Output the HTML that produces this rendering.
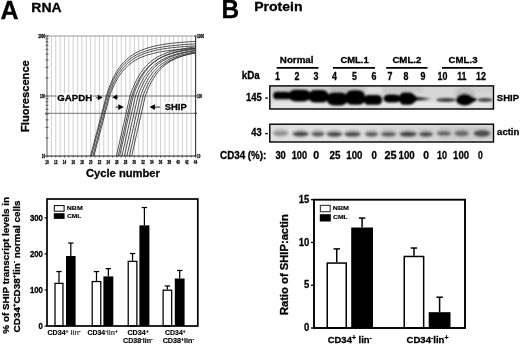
<!DOCTYPE html>
<html><head><meta charset="utf-8">
<style>
html,body{margin:0;padding:0;background:#fff;width:520px;height:345px;overflow:hidden}
svg{display:block;will-change:transform;filter:blur(0.3px)}
text{font-family:"Liberation Sans",sans-serif;font-weight:bold;fill:#000;stroke:#000;stroke-width:0.3px}
</style></head>
<body>
<svg width="520" height="345" viewBox="0 0 520 345">
<defs>
<filter id="b1" x="-10%" y="-50%" width="120%" height="200%"><feGaussianBlur stdDeviation="0.9"/></filter>
<filter id="b3" x="-10%" y="-50%" width="120%" height="200%"><feGaussianBlur stdDeviation="1.8"/></filter>
</defs>
<text x="0.55" y="18.75" font-size="25.0">A</text>
<text x="31.38" y="11.80" font-size="13.3" textLength="30.29" lengthAdjust="spacingAndGlyphs">RNA</text>
<text x="221.59" y="18.30" font-size="25.0" textLength="17.64" lengthAdjust="spacingAndGlyphs">B</text>
<text x="254.17" y="10.60" font-size="13.2" textLength="48.41" lengthAdjust="spacingAndGlyphs">Protein</text>
<g stroke="#c4c4c4" stroke-width="0.8"><line x1="51.37" y1="36.0" x2="51.37" y2="156.0"/>
<line x1="55.74" y1="36.0" x2="55.74" y2="156.0"/>
<line x1="60.10" y1="36.0" x2="60.10" y2="156.0"/>
<line x1="64.47" y1="36.0" x2="64.47" y2="156.0"/>
<line x1="68.84" y1="36.0" x2="68.84" y2="156.0"/>
<line x1="73.21" y1="36.0" x2="73.21" y2="156.0"/>
<line x1="77.57" y1="36.0" x2="77.57" y2="156.0"/>
<line x1="81.94" y1="36.0" x2="81.94" y2="156.0"/>
<line x1="86.31" y1="36.0" x2="86.31" y2="156.0"/>
<line x1="90.68" y1="36.0" x2="90.68" y2="156.0"/>
<line x1="95.04" y1="36.0" x2="95.04" y2="156.0"/>
<line x1="99.41" y1="36.0" x2="99.41" y2="156.0"/>
<line x1="103.78" y1="36.0" x2="103.78" y2="156.0"/>
<line x1="108.15" y1="36.0" x2="108.15" y2="156.0"/>
<line x1="112.51" y1="36.0" x2="112.51" y2="156.0"/>
<line x1="116.88" y1="36.0" x2="116.88" y2="156.0"/>
<line x1="121.25" y1="36.0" x2="121.25" y2="156.0"/>
<line x1="125.62" y1="36.0" x2="125.62" y2="156.0"/>
<line x1="129.99" y1="36.0" x2="129.99" y2="156.0"/>
<line x1="134.35" y1="36.0" x2="134.35" y2="156.0"/>
<line x1="138.72" y1="36.0" x2="138.72" y2="156.0"/>
<line x1="143.09" y1="36.0" x2="143.09" y2="156.0"/>
<line x1="147.46" y1="36.0" x2="147.46" y2="156.0"/>
<line x1="151.82" y1="36.0" x2="151.82" y2="156.0"/>
<line x1="156.19" y1="36.0" x2="156.19" y2="156.0"/>
<line x1="160.56" y1="36.0" x2="160.56" y2="156.0"/>
<line x1="164.93" y1="36.0" x2="164.93" y2="156.0"/>
<line x1="169.29" y1="36.0" x2="169.29" y2="156.0"/>
<line x1="173.66" y1="36.0" x2="173.66" y2="156.0"/>
<line x1="178.03" y1="36.0" x2="178.03" y2="156.0"/>
<line x1="182.40" y1="36.0" x2="182.40" y2="156.0"/>
<line x1="186.76" y1="36.0" x2="186.76" y2="156.0"/>
<line x1="191.13" y1="36.0" x2="191.13" y2="156.0"/></g>
<g stroke="#666" stroke-width="0.9"><line x1="47" y1="96" x2="195.5" y2="96"/><line x1="47" y1="113.3" x2="195.5" y2="113.3"/></g>
<g fill="none" stroke="#262626" stroke-width="0.8"><path d="M90.5,156.0 L104.8,101.7 L106.3,96.0 L107.3,92.8 L108.3,89.9 L109.3,87.1 L110.3,84.6 L111.3,82.2 L112.3,79.9 L113.3,77.8 L114.3,75.8 L115.3,74.0 L116.3,72.2 L117.3,70.6 L118.3,69.1 L119.3,67.6 L120.3,66.3 L121.3,65.0 L122.3,63.8 L123.3,62.7 L124.3,61.6 L125.3,60.6 L126.3,59.7 L129.3,57.1 L132.3,55.0 L135.3,53.1 L138.3,51.6 L141.3,50.2 L144.3,49.1 L147.3,48.1 L150.3,47.2 L153.3,46.4 L156.3,45.7 L159.3,45.1 L162.3,44.6 L165.3,44.1 L168.3,43.7 L171.3,43.3 L174.3,43.0 L177.3,42.7 L180.3,42.4 L183.3,42.2 L186.3,42.0 L189.3,41.8 L192.3,41.6 L195.3,41.5 L195.5,41.4"/>
<path d="M91.4,156.0 L105.7,101.7 L107.2,96.0 L108.2,93.0 L109.2,90.2 L110.2,87.5 L111.2,85.1 L112.2,82.8 L113.2,80.6 L114.2,78.6 L115.2,76.7 L116.2,75.0 L117.2,73.3 L118.2,71.7 L119.2,70.3 L120.2,68.9 L121.2,67.6 L122.2,66.4 L123.2,65.2 L124.2,64.2 L125.2,63.1 L126.2,62.2 L127.2,61.3 L130.2,58.9 L133.2,56.8 L136.2,55.1 L139.2,53.6 L142.2,52.3 L145.2,51.2 L148.2,50.2 L151.2,49.4 L154.2,48.6 L157.2,48.0 L160.2,47.4 L163.2,46.9 L166.2,46.4 L169.2,46.0 L172.2,45.7 L175.2,45.4 L178.2,45.1 L181.2,44.8 L184.2,44.6 L187.2,44.4 L190.2,44.2 L193.2,44.0 L195.5,43.9"/>
<path d="M92.9,156.0 L107.0,101.8 L108.5,96.0 L109.5,93.1 L110.5,90.4 L111.5,87.9 L112.5,85.5 L113.5,83.3 L114.5,81.2 L115.5,79.3 L116.5,77.4 L117.5,75.7 L118.5,74.1 L119.5,72.6 L120.5,71.2 L121.5,69.9 L122.5,68.7 L123.5,67.5 L124.5,66.4 L125.5,65.4 L126.5,64.4 L127.5,63.5 L128.5,62.6 L131.5,60.3 L134.5,58.3 L137.5,56.6 L140.5,55.2 L143.5,53.9 L146.5,52.8 L149.5,51.9 L152.5,51.1 L155.5,50.4 L158.5,49.8 L161.5,49.2 L164.5,48.7 L167.5,48.3 L170.5,47.9 L173.5,47.6 L176.5,47.3 L179.5,47.0 L182.5,46.7 L185.5,46.5 L188.5,46.3 L191.5,46.1 L194.5,46.0 L195.5,45.9"/>
<path d="M93.9,156.0 L108.2,101.7 L109.7,96.0 L110.7,93.2 L111.7,90.7 L112.7,88.2 L113.7,86.0 L114.7,83.9 L115.7,81.9 L116.7,80.1 L117.7,78.3 L118.7,76.7 L119.7,75.2 L120.7,73.8 L121.7,72.4 L122.7,71.2 L123.7,70.0 L124.7,68.9 L125.7,67.8 L126.7,66.8 L127.7,65.9 L128.7,65.0 L129.7,64.2 L132.7,62.0 L135.7,60.1 L138.7,58.5 L141.7,57.1 L144.7,56.0 L147.7,54.9 L150.7,54.1 L153.7,53.3 L156.7,52.6 L159.7,52.0 L162.7,51.5 L165.7,51.0 L168.7,50.6 L171.7,50.2 L174.7,49.9 L177.7,49.6 L180.7,49.4 L183.7,49.1 L186.7,48.9 L189.7,48.7 L192.7,48.6 L195.5,48.4"/>
<path d="M116.4,156.0 L128.5,102.6 L130.0,96.0 L131.0,93.1 L132.0,90.3 L133.0,87.8 L134.0,85.4 L135.0,83.1 L136.0,81.1 L137.0,79.1 L138.0,77.3 L139.0,75.5 L140.0,73.9 L141.0,72.4 L142.0,71.0 L143.0,69.7 L144.0,68.4 L145.0,67.2 L146.0,66.1 L147.0,65.1 L148.0,64.1 L149.0,63.1 L150.0,62.3 L153.0,59.9 L156.0,57.9 L159.0,56.2 L162.0,54.8 L165.0,53.5 L168.0,52.4 L171.0,51.5 L174.0,50.7 L177.0,49.9 L180.0,49.3 L183.0,48.8 L186.0,48.3 L189.0,47.8 L192.0,47.4 L195.0,47.1 L195.5,47.0"/>
<path d="M118.2,156.0 L130.3,102.6 L131.8,96.0 L132.8,93.2 L133.8,90.5 L134.8,88.1 L135.8,85.8 L136.8,83.6 L137.8,81.6 L138.8,79.7 L139.8,78.0 L140.8,76.3 L141.8,74.8 L142.8,73.3 L143.8,72.0 L144.8,70.7 L145.8,69.5 L146.8,68.3 L147.8,67.3 L148.8,66.2 L149.8,65.3 L150.8,64.4 L151.8,63.6 L154.8,61.3 L157.8,59.4 L160.8,57.7 L163.8,56.3 L166.8,55.1 L169.8,54.1 L172.8,53.2 L175.8,52.4 L178.8,51.7 L181.8,51.1 L184.8,50.6 L187.8,50.1 L190.8,49.7 L193.8,49.3 L195.5,49.1"/>
<path d="M119.6,156.0 L131.7,102.6 L133.2,96.0 L134.2,93.1 L135.2,90.4 L136.2,87.9 L137.2,85.6 L138.2,83.4 L139.2,81.3 L140.2,79.4 L141.2,77.6 L142.2,75.9 L143.2,74.4 L144.2,72.9 L145.2,71.5 L146.2,70.2 L147.2,68.9 L148.2,67.8 L149.2,66.7 L150.2,65.7 L151.2,64.7 L152.2,63.8 L153.2,62.9 L156.2,60.6 L159.2,58.6 L162.2,57.0 L165.2,55.5 L168.2,54.3 L171.2,53.3 L174.2,52.3 L177.2,51.5 L180.2,50.8 L183.2,50.2 L186.2,49.7 L189.2,49.2 L192.2,48.8 L195.2,48.4 L195.5,48.3"/>
<path d="M121.9,156.0 L134.0,102.6 L135.5,96.0 L136.5,93.2 L137.5,90.7 L138.5,88.2 L139.5,86.0 L140.5,83.9 L141.5,81.9 L142.5,80.1 L143.5,78.3 L144.5,76.7 L145.5,75.2 L146.5,73.8 L147.5,72.4 L148.5,71.2 L149.5,70.0 L150.5,68.9 L151.5,67.8 L152.5,66.8 L153.5,65.9 L154.5,65.0 L155.5,64.2 L158.5,62.0 L161.5,60.1 L164.5,58.5 L167.5,57.1 L170.5,56.0 L173.5,54.9 L176.5,54.1 L179.5,53.3 L182.5,52.6 L185.5,52.0 L188.5,51.5 L191.5,51.0 L194.5,50.6 L195.5,50.5"/>
<path d="M124.4,156.0 L136.5,102.6 L138.0,96.0 L139.0,93.2 L140.0,90.7 L141.0,88.2 L142.0,86.0 L143.0,83.9 L144.0,81.9 L145.0,80.1 L146.0,78.3 L147.0,76.7 L148.0,75.2 L149.0,73.8 L150.0,72.4 L151.0,71.2 L152.0,70.0 L153.0,68.9 L154.0,67.8 L155.0,66.8 L156.0,65.9 L157.0,65.0 L158.0,64.2 L161.0,62.0 L164.0,60.1 L167.0,58.5 L170.0,57.1 L173.0,56.0 L176.0,54.9 L179.0,54.1 L182.0,53.3 L185.0,52.6 L188.0,52.0 L191.0,51.5 L194.0,51.0 L195.5,50.8"/>
<path d="M126.9,156.0 L139.0,102.6 L140.5,96.0 L141.5,93.3 L142.5,90.8 L143.5,88.4 L144.5,86.2 L145.5,84.1 L146.5,82.2 L147.5,80.4 L148.5,78.7 L149.5,77.1 L150.5,75.6 L151.5,74.2 L152.5,72.9 L153.5,71.7 L154.5,70.5 L155.5,69.4 L156.5,68.4 L157.5,67.4 L158.5,66.5 L159.5,65.7 L160.5,64.9 L163.5,62.7 L166.5,60.8 L169.5,59.3 L172.5,57.9 L175.5,56.8 L178.5,55.8 L181.5,54.9 L184.5,54.2 L187.5,53.5 L190.5,52.9 L193.5,52.4 L195.5,52.1"/>
<path d="M129.4,156.0 L141.5,102.6 L143.0,96.0 L144.0,93.3 L145.0,90.8 L146.0,88.5 L147.0,86.3 L148.0,84.3 L149.0,82.3 L150.0,80.6 L151.0,78.9 L152.0,77.3 L153.0,75.8 L154.0,74.5 L155.0,73.2 L156.0,71.9 L157.0,70.8 L158.0,69.7 L159.0,68.7 L160.0,67.7 L161.0,66.8 L162.0,66.0 L163.0,65.2 L166.0,63.0 L169.0,61.2 L172.0,59.7 L175.0,58.3 L178.0,57.2 L181.0,56.2 L184.0,55.3 L187.0,54.6 L190.0,53.9 L193.0,53.4 L195.5,52.9"/>
<path d="M131.7,156.0 L143.8,102.6 L145.3,96.0 L146.3,93.3 L147.3,90.8 L148.3,88.4 L149.3,86.2 L150.3,84.1 L151.3,82.2 L152.3,80.4 L153.3,78.7 L154.3,77.1 L155.3,75.6 L156.3,74.2 L157.3,72.9 L158.3,71.7 L159.3,70.5 L160.3,69.4 L161.3,68.4 L162.3,67.4 L163.3,66.5 L164.3,65.7 L165.3,64.9 L168.3,62.7 L171.3,60.8 L174.3,59.3 L177.3,57.9 L180.3,56.8 L183.3,55.8 L186.3,54.9 L189.3,54.2 L192.3,53.5 L195.3,52.9 L195.5,52.9"/></g>
<g stroke="#333" stroke-width="0.8"><line x1="47.00" y1="156.0" x2="47.00" y2="157.5"/>
<line x1="51.37" y1="156.0" x2="51.37" y2="157.5"/>
<line x1="55.74" y1="156.0" x2="55.74" y2="157.5"/>
<line x1="60.10" y1="156.0" x2="60.10" y2="157.5"/>
<line x1="64.47" y1="156.0" x2="64.47" y2="157.5"/>
<line x1="68.84" y1="156.0" x2="68.84" y2="157.5"/>
<line x1="73.21" y1="156.0" x2="73.21" y2="157.5"/>
<line x1="77.57" y1="156.0" x2="77.57" y2="157.5"/>
<line x1="81.94" y1="156.0" x2="81.94" y2="157.5"/>
<line x1="86.31" y1="156.0" x2="86.31" y2="157.5"/>
<line x1="90.68" y1="156.0" x2="90.68" y2="157.5"/>
<line x1="95.04" y1="156.0" x2="95.04" y2="157.5"/>
<line x1="99.41" y1="156.0" x2="99.41" y2="157.5"/>
<line x1="103.78" y1="156.0" x2="103.78" y2="157.5"/>
<line x1="108.15" y1="156.0" x2="108.15" y2="157.5"/>
<line x1="112.51" y1="156.0" x2="112.51" y2="157.5"/>
<line x1="116.88" y1="156.0" x2="116.88" y2="157.5"/>
<line x1="121.25" y1="156.0" x2="121.25" y2="157.5"/>
<line x1="125.62" y1="156.0" x2="125.62" y2="157.5"/>
<line x1="129.99" y1="156.0" x2="129.99" y2="157.5"/>
<line x1="134.35" y1="156.0" x2="134.35" y2="157.5"/>
<line x1="138.72" y1="156.0" x2="138.72" y2="157.5"/>
<line x1="143.09" y1="156.0" x2="143.09" y2="157.5"/>
<line x1="147.46" y1="156.0" x2="147.46" y2="157.5"/>
<line x1="151.82" y1="156.0" x2="151.82" y2="157.5"/>
<line x1="156.19" y1="156.0" x2="156.19" y2="157.5"/>
<line x1="160.56" y1="156.0" x2="160.56" y2="157.5"/>
<line x1="164.93" y1="156.0" x2="164.93" y2="157.5"/>
<line x1="169.29" y1="156.0" x2="169.29" y2="157.5"/>
<line x1="173.66" y1="156.0" x2="173.66" y2="157.5"/>
<line x1="178.03" y1="156.0" x2="178.03" y2="157.5"/>
<line x1="182.40" y1="156.0" x2="182.40" y2="157.5"/>
<line x1="186.76" y1="156.0" x2="186.76" y2="157.5"/>
<line x1="191.13" y1="156.0" x2="191.13" y2="157.5"/>
<line x1="195.50" y1="156.0" x2="195.50" y2="157.5"/></g>
<line x1="47" y1="36" x2="195.5" y2="36" stroke="#999" stroke-width="1"/>
<g stroke="#222" stroke-width="0.9"><line x1="45.6" y1="137.94" x2="48.4" y2="137.94"/><line x1="45.6" y1="127.37" x2="48.4" y2="127.37"/><line x1="45.6" y1="119.88" x2="48.4" y2="119.88"/><line x1="45.6" y1="114.06" x2="48.4" y2="114.06"/><line x1="45.6" y1="109.31" x2="48.4" y2="109.31"/><line x1="45.6" y1="105.29" x2="48.4" y2="105.29"/><line x1="45.6" y1="101.81" x2="48.4" y2="101.81"/><line x1="45.6" y1="98.75" x2="48.4" y2="98.75"/><line x1="45.6" y1="77.94" x2="48.4" y2="77.94"/><line x1="45.6" y1="67.37" x2="48.4" y2="67.37"/><line x1="45.6" y1="59.88" x2="48.4" y2="59.88"/><line x1="45.6" y1="54.06" x2="48.4" y2="54.06"/><line x1="45.6" y1="49.31" x2="48.4" y2="49.31"/><line x1="45.6" y1="45.29" x2="48.4" y2="45.29"/><line x1="45.6" y1="41.81" x2="48.4" y2="41.81"/><line x1="45.6" y1="38.75" x2="48.4" y2="38.75"/><line x1="45" y1="36.00" x2="48.4" y2="36.00"/><line x1="194.5" y1="36.00" x2="197" y2="36.00"/><line x1="45" y1="96.00" x2="48.4" y2="96.00"/><line x1="194.5" y1="96.00" x2="197" y2="96.00"/><line x1="45" y1="156.00" x2="48.4" y2="156.00"/><line x1="194.5" y1="156.00" x2="197" y2="156.00"/><line x1="45" y1="113.30" x2="48.4" y2="113.30"/><line x1="194.5" y1="113.30" x2="197" y2="113.30"/></g>
<line x1="47" y1="156" x2="195.5" y2="156" stroke="#222" stroke-width="1.1"/>
<line x1="47" y1="36" x2="47" y2="156" stroke="#666" stroke-width="1.1"/>
<line x1="195.6" y1="36" x2="195.6" y2="156" stroke="#333" stroke-width="1.1"/>
<g font-size="5.2" text-anchor="middle" style="font-weight:normal;stroke:none" fill="#222"><text x="47.00" y="163.8" textLength="3.5" lengthAdjust="spacingAndGlyphs">10</text>
<text x="55.74" y="163.8" textLength="3.5" lengthAdjust="spacingAndGlyphs">12</text>
<text x="64.47" y="163.8" textLength="3.5" lengthAdjust="spacingAndGlyphs">14</text>
<text x="73.21" y="163.8" textLength="3.5" lengthAdjust="spacingAndGlyphs">16</text>
<text x="81.94" y="163.8" textLength="3.5" lengthAdjust="spacingAndGlyphs">18</text>
<text x="90.68" y="163.8" textLength="3.5" lengthAdjust="spacingAndGlyphs">20</text>
<text x="99.41" y="163.8" textLength="3.5" lengthAdjust="spacingAndGlyphs">22</text>
<text x="108.15" y="163.8" textLength="3.5" lengthAdjust="spacingAndGlyphs">24</text>
<text x="116.88" y="163.8" textLength="3.5" lengthAdjust="spacingAndGlyphs">26</text>
<text x="125.62" y="163.8" textLength="3.5" lengthAdjust="spacingAndGlyphs">28</text>
<text x="134.35" y="163.8" textLength="3.5" lengthAdjust="spacingAndGlyphs">30</text>
<text x="143.09" y="163.8" textLength="3.5" lengthAdjust="spacingAndGlyphs">32</text>
<text x="151.82" y="163.8" textLength="3.5" lengthAdjust="spacingAndGlyphs">34</text>
<text x="160.56" y="163.8" textLength="3.5" lengthAdjust="spacingAndGlyphs">36</text>
<text x="169.29" y="163.8" textLength="3.5" lengthAdjust="spacingAndGlyphs">38</text>
<text x="178.03" y="163.8" textLength="3.5" lengthAdjust="spacingAndGlyphs">40</text>
<text x="186.76" y="163.8" textLength="3.5" lengthAdjust="spacingAndGlyphs">42</text>
<text x="195.50" y="163.8" textLength="3.5" lengthAdjust="spacingAndGlyphs">44</text></g>
<g font-size="5.0" style="font-weight:normal;stroke:none" fill="#222" lengthAdjust="spacingAndGlyphs">
<text x="38.2" y="37.7" textLength="7" lengthAdjust="spacingAndGlyphs">1000</text><text x="40" y="98.2" textLength="4.9" lengthAdjust="spacingAndGlyphs">100</text><text x="41.8" y="157.8" textLength="3.3" lengthAdjust="spacingAndGlyphs">10</text>
<text x="197" y="37.7" textLength="7" lengthAdjust="spacingAndGlyphs">1000</text><text x="197" y="98.2" textLength="4.9" lengthAdjust="spacingAndGlyphs">100</text><text x="197" y="157.8" textLength="3.3" lengthAdjust="spacingAndGlyphs">10</text></g>
<rect x="56.6" y="93.2" width="36" height="8.6" fill="#fff"/>
<text x="57.29" y="100.60" font-size="9.1" textLength="34.86" lengthAdjust="spacingAndGlyphs">GAPDH</text>
<rect x="163.8" y="102" width="23.5" height="8.8" fill="#fff"/>
<text x="164.72" y="109.80" font-size="9.4" textLength="22.00" lengthAdjust="spacingAndGlyphs">SHIP</text>
<line x1="97.80" y1="97.6" x2="96.30" y2="97.6" stroke="#333" stroke-width="1.1"/>
<path d="M97.80,94.85 L102.70,97.6 L97.80,100.35Z" fill="#000"/>
<line x1="117.10" y1="97.2" x2="118.30" y2="97.2" stroke="#333" stroke-width="1.1"/>
<path d="M117.10,94.45 L112.30,97.2 L117.10,99.95Z" fill="#000"/>
<line x1="118.30" y1="107.1" x2="115.60" y2="107.1" stroke="#333" stroke-width="1.1"/>
<path d="M118.30,104.30 L123.80,107.1 L118.30,109.90Z" fill="#000"/>
<line x1="154.90" y1="107.1" x2="160.20" y2="107.1" stroke="#333" stroke-width="1.1"/>
<path d="M154.90,104.20 L149.60,107.1 L154.90,110.00Z" fill="#000"/>
<text transform="translate(28.70,131.93) rotate(-90)" font-size="11.2" textLength="71.70" lengthAdjust="spacingAndGlyphs">Fluorescence</text>
<text x="85.93" y="177.10" font-size="11.2" textLength="74.04" lengthAdjust="spacingAndGlyphs">Cycle number</text>
<line x1="59.00" y1="282.72" x2="59.00" y2="271.54" stroke="#000" stroke-width="1.25"/>
<line x1="56.30" y1="271.54" x2="61.70" y2="271.54" stroke="#000" stroke-width="1.25"/>
<rect x="55.02" y="283.35" width="7.95" height="42.65" fill="#fff" stroke="#000" stroke-width="1.25"/>
<line x1="70.80" y1="256.03" x2="70.80" y2="243.05" stroke="#000" stroke-width="1.25"/>
<line x1="68.10" y1="243.05" x2="73.50" y2="243.05" stroke="#000" stroke-width="1.25"/>
<rect x="66.00" y="256.03" width="9.60" height="69.97" fill="#000"/>
<line x1="96.50" y1="280.92" x2="96.50" y2="271.54" stroke="#000" stroke-width="1.25"/>
<line x1="93.80" y1="271.54" x2="99.20" y2="271.54" stroke="#000" stroke-width="1.25"/>
<rect x="92.22" y="281.54" width="8.55" height="44.46" fill="#fff" stroke="#000" stroke-width="1.25"/>
<line x1="108.35" y1="276.41" x2="108.35" y2="268.65" stroke="#000" stroke-width="1.25"/>
<line x1="105.65" y1="268.65" x2="111.05" y2="268.65" stroke="#000" stroke-width="1.25"/>
<rect x="103.40" y="276.41" width="9.90" height="49.59" fill="#000"/>
<line x1="132.55" y1="260.72" x2="132.55" y2="253.51" stroke="#000" stroke-width="1.25"/>
<line x1="129.85" y1="253.51" x2="135.25" y2="253.51" stroke="#000" stroke-width="1.25"/>
<rect x="128.22" y="261.34" width="8.65" height="64.66" fill="#fff" stroke="#000" stroke-width="1.25"/>
<line x1="144.40" y1="225.37" x2="144.40" y2="207.52" stroke="#000" stroke-width="1.25"/>
<line x1="141.70" y1="207.52" x2="147.10" y2="207.52" stroke="#000" stroke-width="1.25"/>
<rect x="139.40" y="225.37" width="10.00" height="100.63" fill="#000"/>
<line x1="167.40" y1="289.57" x2="167.40" y2="285.97" stroke="#000" stroke-width="1.25"/>
<line x1="164.70" y1="285.97" x2="170.10" y2="285.97" stroke="#000" stroke-width="1.25"/>
<rect x="163.12" y="290.20" width="8.55" height="35.80" fill="#fff" stroke="#000" stroke-width="1.25"/>
<line x1="179.70" y1="278.50" x2="179.70" y2="270.46" stroke="#000" stroke-width="1.25"/>
<line x1="177.00" y1="270.46" x2="182.40" y2="270.46" stroke="#000" stroke-width="1.25"/>
<rect x="174.80" y="278.50" width="9.80" height="47.50" fill="#000"/>
<rect x="47" y="199" width="150.8" height="127" fill="none" stroke="#000" stroke-width="1.7"/>
<line x1="44.6" y1="326.00" x2="47" y2="326.00" stroke="#000" stroke-width="1.2"/>
<line x1="44.6" y1="289.93" x2="47" y2="289.93" stroke="#000" stroke-width="1.2"/>
<line x1="44.6" y1="253.87" x2="47" y2="253.87" stroke="#000" stroke-width="1.2"/>
<line x1="44.6" y1="217.80" x2="47" y2="217.80" stroke="#000" stroke-width="1.2"/>
<text x="38.57" y="328.95" font-size="8.4" textLength="4.34" lengthAdjust="spacingAndGlyphs">0</text>
<text x="29.88" y="292.88" font-size="8.4" textLength="13.03" lengthAdjust="spacingAndGlyphs">100</text>
<text x="29.88" y="256.82" font-size="8.4" textLength="13.03" lengthAdjust="spacingAndGlyphs">200</text>
<text x="29.88" y="220.75" font-size="8.4" textLength="13.03" lengthAdjust="spacingAndGlyphs">300</text>
<rect x="54.3" y="205.6" width="9.8" height="5.6" fill="#fff" stroke="#000" stroke-width="1"/>
<rect x="53.8" y="213.2" width="10.8" height="5.7" fill="#000"/>
<text x="66.84" y="210.00" font-size="6.1" textLength="15.93" lengthAdjust="spacingAndGlyphs" style="stroke-width:0.15px">NBM</text>
<text x="67.02" y="218.40" font-size="6.1" textLength="14.27" lengthAdjust="spacingAndGlyphs" style="stroke-width:0.15px">CML</text>
<text x="47.5" y="335.3" font-size="6.9" textLength="33.0" lengthAdjust="spacingAndGlyphs" style="stroke-width:0.15px"><tspan>CD34</tspan><tspan font-size="4.97" dy="-2.48">+</tspan><tspan dy="2.48" style="fill:#484848;stroke:#484848"> lin</tspan><tspan font-size="4.97" dy="-2.48">-</tspan></text>
<text x="87.5" y="335.3" font-size="6.9" textLength="30.4" lengthAdjust="spacingAndGlyphs" style="stroke-width:0.15px"><tspan>CD34</tspan><tspan font-size="4.97" dy="-2.48">-</tspan><tspan dy="2.48" style="fill:#484848;stroke:#484848">lin</tspan><tspan font-size="4.97" dy="-2.48">+</tspan></text>
<text x="127.4" y="335.2" font-size="6.9" textLength="21.3" lengthAdjust="spacingAndGlyphs" style="stroke-width:0.15px"><tspan>CD34</tspan><tspan font-size="4.97" dy="-2.48">+</tspan></text>
<text x="123.1" y="343.3" font-size="6.9" textLength="29.6" lengthAdjust="spacingAndGlyphs" style="stroke-width:0.15px"><tspan>CD38</tspan><tspan font-size="4.97" dy="-2.48">-</tspan><tspan dy="2.48">lin</tspan><tspan font-size="4.97" dy="-2.48">-</tspan></text>
<text x="165.1" y="335.2" font-size="6.9" textLength="20.6" lengthAdjust="spacingAndGlyphs" style="stroke-width:0.15px"><tspan>CD34</tspan><tspan font-size="4.97" dy="-2.48">+</tspan></text>
<text x="162.7" y="343.3" font-size="6.9" textLength="31.5" lengthAdjust="spacingAndGlyphs" style="stroke-width:0.15px"><tspan>CD38</tspan><tspan font-size="4.97" dy="-2.48">+</tspan><tspan dy="2.48">lin</tspan><tspan font-size="4.97" dy="-2.48">-</tspan></text>
<text transform="translate(8.80,333.64) rotate(-90)" font-size="9.9" textLength="136.67" lengthAdjust="spacingAndGlyphs">% of SHIP transcript levels in</text>
<text transform="translate(19.6,332.39) rotate(-90)" font-size="9.8" textLength="131.8" lengthAdjust="spacingAndGlyphs">CD34<tspan font-size="6" dy="-3.6">+</tspan><tspan dy="3.6">CD38</tspan><tspan font-size="6" dy="-3.6">+</tspan><tspan dy="3.6">lin</tspan><tspan font-size="6" dy="-3.6">-</tspan><tspan dy="3.6"> normal cells</tspan></text>
<line x1="336.75" y1="262.31" x2="336.75" y2="248.88" stroke="#000" stroke-width="1.5"/>
<line x1="333.55" y1="248.88" x2="339.95" y2="248.88" stroke="#000" stroke-width="1.5"/>
<rect x="327.25" y="263.06" width="19.00" height="64.94" fill="#fff" stroke="#000" stroke-width="1.5"/>
<line x1="362.10" y1="227.50" x2="362.10" y2="218.09" stroke="#000" stroke-width="1.5"/>
<line x1="358.90" y1="218.09" x2="365.30" y2="218.09" stroke="#000" stroke-width="1.5"/>
<rect x="351.20" y="227.50" width="21.80" height="100.50" fill="#000"/>
<line x1="413.95" y1="255.72" x2="413.95" y2="248.03" stroke="#000" stroke-width="1.5"/>
<line x1="410.75" y1="248.03" x2="417.15" y2="248.03" stroke="#000" stroke-width="1.5"/>
<rect x="404.25" y="256.47" width="19.40" height="71.53" fill="#fff" stroke="#000" stroke-width="1.5"/>
<line x1="439.60" y1="312.18" x2="439.60" y2="297.21" stroke="#000" stroke-width="1.5"/>
<line x1="436.40" y1="297.21" x2="442.80" y2="297.21" stroke="#000" stroke-width="1.5"/>
<rect x="428.70" y="312.18" width="21.80" height="15.82" fill="#000"/>
<rect x="314" y="199.7" width="151" height="128.3" fill="none" stroke="#000" stroke-width="1.9"/>
<line x1="311" y1="328.00" x2="314" y2="328.00" stroke="#000" stroke-width="1.3"/>
<line x1="311" y1="285.23" x2="314" y2="285.23" stroke="#000" stroke-width="1.3"/>
<line x1="311" y1="242.47" x2="314" y2="242.47" stroke="#000" stroke-width="1.3"/>
<line x1="311" y1="199.70" x2="314" y2="199.70" stroke="#000" stroke-width="1.3"/>
<text x="304.11" y="331.20" font-size="10.3" textLength="5.27" lengthAdjust="spacingAndGlyphs">0</text>
<text x="304.00" y="288.43" font-size="10.3" textLength="5.27" lengthAdjust="spacingAndGlyphs">5</text>
<text x="298.84" y="245.67" font-size="10.3" textLength="10.54" lengthAdjust="spacingAndGlyphs">10</text>
<text x="298.73" y="202.90" font-size="10.3" textLength="10.54" lengthAdjust="spacingAndGlyphs">15</text>
<rect x="320.4" y="205.4" width="9.8" height="6.3" fill="#fff" stroke="#444" stroke-width="1.2"/>
<rect x="319.8" y="214.2" width="11" height="7.3" fill="#000"/>
<text x="332.83" y="210.40" font-size="6.1" textLength="16.15" lengthAdjust="spacingAndGlyphs" style="stroke-width:0.15px">NBM</text>
<text x="333.02" y="218.80" font-size="6.1" textLength="14.69" lengthAdjust="spacingAndGlyphs" style="stroke-width:0.15px">CML</text>
<text x="327.7" y="343.0" font-size="9.6" textLength="44.2" lengthAdjust="spacingAndGlyphs"><tspan>CD34</tspan><tspan font-size="6.91" dy="-3.46">+</tspan><tspan dy="3.46"> lin</tspan><tspan font-size="6.91" dy="-3.46">-</tspan></text>
<text x="406.5" y="343.0" font-size="9.6" textLength="42.0" lengthAdjust="spacingAndGlyphs"><tspan>CD34</tspan><tspan font-size="6.91" dy="-3.46">-</tspan><tspan dy="3.46">lin</tspan><tspan font-size="6.91" dy="-3.46">+</tspan></text>
<text transform="translate(287.80,315.04) rotate(-90)" font-size="10.8" textLength="100.84" lengthAdjust="spacingAndGlyphs">Ratio of SHIP:actin</text>
<text x="279.86" y="63.00" font-size="9.7" textLength="33.62" lengthAdjust="spacingAndGlyphs">Normal</text>
<text x="340.40" y="63.00" font-size="9.7" textLength="28.36" lengthAdjust="spacingAndGlyphs">CML.1</text>
<text x="392.39" y="63.00" font-size="9.7" textLength="28.99" lengthAdjust="spacingAndGlyphs">CML.2</text>
<text x="448.59" y="63.00" font-size="9.7" textLength="28.95" lengthAdjust="spacingAndGlyphs">CML.3</text>
<g stroke="#000" stroke-width="1.7"><line x1="276.7" y1="67.9" x2="318.5" y2="67.9"/><line x1="333" y1="67.9" x2="375" y2="67.9"/><line x1="386.2" y1="67.9" x2="427.5" y2="67.9"/><line x1="442" y1="67.9" x2="482.5" y2="67.9"/></g>
<text x="275.07" y="79.90" font-size="10.1" textLength="4.94" lengthAdjust="spacingAndGlyphs">1</text>
<text x="294.56" y="79.90" font-size="10.1" textLength="4.94" lengthAdjust="spacingAndGlyphs">2</text>
<text x="313.58" y="79.90" font-size="10.1" textLength="4.94" lengthAdjust="spacingAndGlyphs">3</text>
<text x="331.98" y="79.90" font-size="10.1" textLength="4.94" lengthAdjust="spacingAndGlyphs">4</text>
<text x="352.01" y="79.90" font-size="10.1" textLength="4.94" lengthAdjust="spacingAndGlyphs">5</text>
<text x="371.53" y="79.90" font-size="10.1" textLength="4.94" lengthAdjust="spacingAndGlyphs">6</text>
<text x="387.54" y="79.90" font-size="10.1" textLength="4.94" lengthAdjust="spacingAndGlyphs">7</text>
<text x="403.52" y="79.90" font-size="10.1" textLength="4.94" lengthAdjust="spacingAndGlyphs">8</text>
<text x="420.54" y="79.90" font-size="10.1" textLength="4.94" lengthAdjust="spacingAndGlyphs">9</text>
<text x="437.45" y="79.90" font-size="10.1" textLength="9.89" lengthAdjust="spacingAndGlyphs">10</text>
<text x="457.15" y="79.90" font-size="10.1" textLength="9.40" lengthAdjust="spacingAndGlyphs">11</text>
<text x="475.95" y="79.90" font-size="10.1" textLength="9.89" lengthAdjust="spacingAndGlyphs">12</text>
<text x="241.72" y="78.70" font-size="10.3" textLength="17.93" lengthAdjust="spacingAndGlyphs">kDa</text>
<rect x="269.8" y="85.9" width="223.7" height="23.099999999999994" fill="#d6d6d6"/>
<g filter="url(#b3)">
<rect x="271" y="87" width="30" height="4" fill="#c9c9c9"/>
<rect x="300" y="87" width="30" height="3" fill="#cfcfcf"/>
<rect x="330" y="87" width="20" height="5" fill="#b9b9b9"/>
<rect x="348" y="87" width="18" height="4" fill="#c4c4c4"/>
<rect x="368" y="88" width="14" height="5" fill="#e0e0e0"/>
<rect x="382" y="87" width="40" height="5" fill="#c8c8c8"/>
<rect x="432" y="87" width="20" height="6" fill="#d6d6d6"/>
<rect x="455" y="87" width="38" height="5" fill="#cfcfcf"/>
<rect x="271" y="102" width="220" height="6" fill="#e6e6e6"/>
</g>
<g filter="url(#b1)">
<rect x="273.2" y="91.7" width="17.30000000000001" height="7.599999999999994" rx="4" ry="3.4" fill="#050505"/>
<rect x="288.8" y="89.8" width="21.599999999999966" height="11.600000000000009" rx="7" ry="4.5" fill="#050505"/>
<rect x="308.8" y="90.0" width="19.599999999999966" height="12.599999999999994" rx="6.5" ry="4.8" fill="#050505"/>
<rect x="327.2" y="92.6" width="20.0" height="12.800000000000011" rx="6.5" ry="5" fill="#050505"/>
<rect x="345.8" y="90.2" width="19.0" height="14.599999999999994" rx="6.5" ry="5.2" fill="#050505"/>
<rect x="363.8" y="95.0" width="18.19999999999999" height="9.799999999999997" rx="5" ry="4" fill="#050505"/>
<rect x="383.6" y="94.4" width="16.899999999999977" height="8.199999999999989" rx="5.5" ry="3.8" fill="#050505"/>
<rect x="399.5" y="92.4" width="14.5" height="12.399999999999991" rx="4.5" ry="4.5" fill="#050505"/>
<path d="M412,93.6 Q416,96 418.5,98.8 Q416,101.6 412,104Z" fill="#050505"/>
<path d="M417.5,97.0 Q424,98.0 431,98.7 Q424,99.6 417.5,100.6 Z" fill="#111"/>
<ellipse cx="465" cy="95" rx="10" ry="8" fill="#c2c2c2"/>
<ellipse cx="446" cy="99.9" rx="9.8" ry="2.0" fill="#3c3c3c"/>
<ellipse cx="464.5" cy="99.5" rx="8.5" ry="6.0" fill="#050505"/>
<path d="M468,94.2 Q474,97 477.5,99.5 Q474,102 468,104.8Z" fill="#050505"/>
<ellipse cx="485" cy="99.9" rx="7.4" ry="2.0" fill="#454545"/>
</g>
<rect x="269.8" y="85.9" width="223.7" height="23.099999999999994" fill="none" stroke="#000" stroke-width="1.4"/>
<rect x="269.8" y="124.2" width="223.7" height="17.799999999999997" fill="#dedede"/>
<g filter="url(#b3)">
<rect x="271" y="126" width="80" height="14" fill="#e2e2e2"/>
<rect x="440" y="126" width="52" height="14" fill="#cbcbcb"/>
<rect x="380" y="126" width="60" height="14" fill="#d4d4d4"/>
</g>
<g filter="url(#b1)">
<ellipse cx="280.7" cy="132.8" rx="8.5" ry="4.4" fill="#bdbdbd"/>
<ellipse cx="300.6" cy="133.5" rx="9.3" ry="4.4" fill="#bdbdbd"/>
<ellipse cx="317.9" cy="133.4" rx="7.5" ry="4.4" fill="#bdbdbd"/>
<ellipse cx="334.4" cy="133.6" rx="9.0" ry="4.4" fill="#bdbdbd"/>
<ellipse cx="352.6" cy="133.6" rx="9.3" ry="4.4" fill="#bdbdbd"/>
<ellipse cx="371.6" cy="133.6" rx="7.6" ry="4.4" fill="#bdbdbd"/>
<ellipse cx="388.5" cy="133.6" rx="8.7" ry="4.4" fill="#bdbdbd"/>
<ellipse cx="408.1" cy="133.6" rx="9.8" ry="4.4" fill="#bdbdbd"/>
<ellipse cx="426" cy="133.6" rx="8.1" ry="4.4" fill="#bdbdbd"/>
<ellipse cx="444" cy="132.8" rx="8.5" ry="4.4" fill="#bdbdbd"/>
<ellipse cx="461.7" cy="132.8" rx="8.5" ry="4.4" fill="#bdbdbd"/>
<ellipse cx="482" cy="132.8" rx="9.7" ry="4.4" fill="#bdbdbd"/>
<ellipse cx="280.7" cy="133.4" rx="7" ry="2.0" fill="#8c8c8c"/>
<ellipse cx="300.6" cy="134.1" rx="7.8" ry="2.5" fill="#444"/>
<ellipse cx="317.9" cy="134.0" rx="6.0" ry="2.3" fill="#555"/>
<ellipse cx="334.4" cy="134.2" rx="7.5" ry="2.5" fill="#4a4a4a"/>
<ellipse cx="352.6" cy="134.2" rx="7.8" ry="2.4" fill="#4c4c4c"/>
<ellipse cx="371.6" cy="134.2" rx="6.1" ry="2.3" fill="#5a5a5a"/>
<ellipse cx="388.5" cy="134.2" rx="7.2" ry="2.3" fill="#5a5a5a"/>
<ellipse cx="408.1" cy="134.2" rx="8.3" ry="2.6" fill="#444"/>
<ellipse cx="426" cy="134.2" rx="6.6" ry="2.5" fill="#505050"/>
<ellipse cx="444" cy="133.4" rx="7" ry="2.1" fill="#5e5e5e"/>
<ellipse cx="461.7" cy="133.4" rx="7" ry="2.9" fill="#6a6a6a"/>
<ellipse cx="482" cy="133.4" rx="8.2" ry="3.3" fill="#4e4e4e"/>
</g>
<rect x="269.8" y="124.2" width="223.7" height="17.799999999999997" fill="none" stroke="#000" stroke-width="1.4"/>
<text x="245.89" y="100.90" font-size="10.3" textLength="15.77" lengthAdjust="spacingAndGlyphs">145</text>
<rect x="265.3" y="97.4" width="2.5" height="1.4" fill="#000"/>
<text x="251.35" y="136.20" font-size="10.3" textLength="10.39" lengthAdjust="spacingAndGlyphs">43</text>
<rect x="265.3" y="132.9" width="2.5" height="1.4" fill="#000"/>
<text x="496.81" y="101.30" font-size="9.8" textLength="22.21" lengthAdjust="spacingAndGlyphs">SHIP</text>
<text x="497.11" y="135.00" font-size="9.3" textLength="22.17" lengthAdjust="spacingAndGlyphs">actin</text>
<text x="220.09" y="158.90" font-size="10.0" textLength="46.26" lengthAdjust="spacingAndGlyphs">CD34 (%):</text>
<text x="275.38" y="158.90" font-size="10.2" textLength="10.40" lengthAdjust="spacingAndGlyphs">30</text>
<text x="291.71" y="158.90" font-size="10.2" textLength="15.36" lengthAdjust="spacingAndGlyphs">100</text>
<text x="313.28" y="158.90" font-size="10.2" textLength="5.84" lengthAdjust="spacingAndGlyphs">0</text>
<text x="329.47" y="158.90" font-size="10.2" textLength="10.91" lengthAdjust="spacingAndGlyphs">25</text>
<text x="346.28" y="158.90" font-size="10.2" textLength="16.11" lengthAdjust="spacingAndGlyphs">100</text>
<text x="371.41" y="158.90" font-size="10.2" textLength="5.37" lengthAdjust="spacingAndGlyphs">0</text>
<text x="384.53" y="158.90" font-size="10.2" textLength="12.08" lengthAdjust="spacingAndGlyphs">25</text>
<text x="398.58" y="158.90" font-size="10.2" textLength="16.11" lengthAdjust="spacingAndGlyphs">100</text>
<text x="423.29" y="158.90" font-size="10.2" textLength="5.73" lengthAdjust="spacingAndGlyphs">0</text>
<text x="436.92" y="158.90" font-size="10.2" textLength="10.04" lengthAdjust="spacingAndGlyphs">10</text>
<text x="453.09" y="158.90" font-size="10.2" textLength="15.90" lengthAdjust="spacingAndGlyphs">100</text>
<text x="477.96" y="158.90" font-size="10.2" textLength="4.79" lengthAdjust="spacingAndGlyphs">0</text>
</svg>
</body></html>
